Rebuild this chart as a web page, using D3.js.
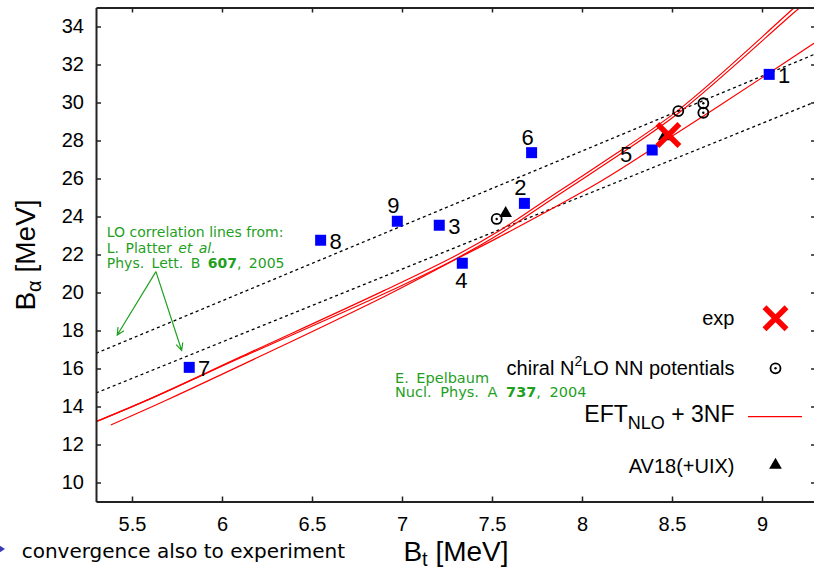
<!DOCTYPE html>
<html>
<head>
<meta charset="utf-8">
<script src="https://cdn.jsdelivr.net/npm/d3@7"></script>
<style>
body { margin: 0; background: #fff; }
svg { display: block; font-family: "Liberation Sans", Arial, sans-serif; }
</style>
</head>
<body>
<svg id="tjon"></svg>
<script>
// ---- data (B_t, B_alpha in MeV) ----
const modelLabels = ["1", "2", "3", "4", "5", "6", "7", "8", "9"];
const modelBt = [9.04, 7.68, 7.207, 7.335, 8.39, 7.72, 5.818, 6.548, 6.974];
const modelBa = [31.48, 24.69, 23.54, 21.54, 27.5, 27.36, 16.06, 22.75, 23.75];
const modelSide = ["right", "above", "right", "below", "left", "above", "right", "right", "above"];

const chiralBt = [7.526, 8.535, 8.674, 8.674];
const chiralBa = [23.87, 29.55, 29.96, 29.46];

const av18Bt = [7.576, 8.457];
const av18Ba = [24.17, 28.2];

const expBt = [8.48];
const expBa = [28.29];

// LO correlation lines (Platter et al.)
const loBt = [5.3, 9.3];
const loUpperBa = [16.8, 32.57];
const loLowerBa = [14.71, 30.05];

// EFT NLO + 3NF bands (Epelbaum)
const eftA1Bt = [5.3, 5.6, 6.1, 6.9, 7.3, 7.55, 7.82, 8.1, 8.535, 9.18, 9.25];
const eftA1Ba = [13.2, 14.4, 16.6, 20.1, 21.95, 23.3, 25.0, 26.75, 29.6, 35.0, 35.6];
const eftA2Bt = [5.3, 5.6, 6.1, 6.9, 7.3, 7.55, 7.82, 8.1, 8.535, 9.18, 9.25];
const eftA2Ba = [13.2, 14.4, 16.55, 19.93, 21.78, 23.13, 24.83, 26.58, 29.43, 34.75, 35.3];
const eftBBt = [5.382, 5.693, 6.9, 7.3, 7.544, 8.1, 8.452, 8.75, 9.35];
const eftBBa = [13.03, 14.34, 19.78, 21.75, 22.94, 25.83, 27.94, 29.75, 33.5];

const xTicks = [5.5, 6, 6.5, 7, 7.5, 8, 8.5, 9];
const yTicks = [10, 12, 14, 16, 18, 20, 22, 24, 26, 28, 30, 32, 34];

// annotation arrows: apex -> two tips
const arrowBt = [5.633, 5.418, 5.776];
const arrowBa = [21.1, 17.76, 16.95];

const W = 814, H = 567;
const svg = d3.select("#tjon").attr("width", W).attr("height", H);
svg.append("rect").attr("width", W).attr("height", H).attr("fill", "#fff");

const x = d3.scaleLinear().domain([5.3, 9.3]).range([96, 816]);
const y = d3.scaleLinear().domain([9, 35]).range([501.5, 7.5]);

svg.append("clipPath").attr("id", "plotclip")
    .append("rect")
    .attr("x", x(5.3)).attr("y", y(35))
    .attr("width", x(9.3) - x(5.3)).attr("height", y(9) - y(35));

const plot = svg.append("g").attr("clip-path", "url(#plotclip)");

// dashed LO lines
[loUpperBa, loLowerBa].forEach(ba => {
    plot.append("path")
        .datum(loBt.map((d, i) => [d, ba[i]]))
        .attr("d", d3.line().x(d => x(d[0])).y(d => y(d[1])))
        .attr("fill", "none")
        .attr("stroke", "#000")
        .attr("stroke-width", 1.3)
        .attr("stroke-dasharray", "3,3");
});

// red EFT curves
const curve = d3.line().x(d => x(d[0])).y(d => y(d[1])).curve(d3.curveCatmullRom);
[[eftA1Bt, eftA1Ba], [eftA2Bt, eftA2Ba], [eftBBt, eftBBa]].forEach(([bt, ba]) => {
    plot.append("path")
        .datum(bt.map((d, i) => [d, ba[i]]))
        .attr("d", curve)
        .attr("fill", "none")
        .attr("stroke", "#ff0000")
        .attr("stroke-width", 1.2);
});

// axes
function styleAxis(g) {
    g.select(".domain").attr("stroke", "#222").attr("stroke-width", 2);
    g.selectAll(".tick line").attr("stroke", "#222").attr("stroke-width", 1.5);
    g.selectAll(".tick text").attr("fill", "#000").style("font-size", "20px")
        .style("font-family", "'Liberation Sans', Arial, sans-serif");
}
svg.append("g")
    .attr("transform", `translate(0,${y(9)})`)
    .call(d3.axisBottom(x).tickValues(xTicks).tickSizeInner(-5).tickSizeOuter(0)
        .tickPadding(15).tickFormat(d => String(d)))
    .call(styleAxis);
svg.append("g")
    .attr("transform", `translate(${x(5.3)},0)`)
    .call(d3.axisLeft(y).tickValues(yTicks).tickSizeInner(-5).tickSizeOuter(0)
        .tickPadding(12).tickFormat(d => String(d)))
    .call(styleAxis);
svg.append("g")
    .attr("transform", `translate(0,${y(35)})`)
    .call(d3.axisTop(x).tickValues(xTicks).tickSizeInner(-5).tickSizeOuter(0).tickFormat(""))
    .call(styleAxis);
svg.append("g")
    .attr("transform", `translate(${x(9.3)},0)`)
    .call(d3.axisRight(y).tickValues(yTicks).tickSizeInner(-5).tickSizeOuter(0).tickFormat(""))
    .call(styleAxis);

// blue model squares
const sq = d3.symbol().type(d3.symbolSquare).size(121);
svg.selectAll(".model")
    .data(modelLabels)
    .enter().append("path")
    .attr("class", "model")
    .attr("d", sq)
    .attr("transform", (d, i) => `translate(${x(modelBt[i])},${y(modelBa[i])})`)
    .attr("fill", "#0000ff");

const sideOffset = {
    right: [15, 8.5],
    above: [-4, -8],
    left: [-26, 11.7],
    below: [-1, 25]
};
svg.selectAll(".mlabel")
    .data(modelLabels)
    .enter().append("text")
    .attr("class", "mlabel")
    .attr("x", (d, i) => x(modelBt[i]) + sideOffset[modelSide[i]][0])
    .attr("y", (d, i) => y(modelBa[i]) + sideOffset[modelSide[i]][1])
    .attr("text-anchor", "middle")
    .style("font-size", "22px")
    .text(d => d);

// chiral N2LO open circles
function dotCircle(g, cx, cy) {
    g.append("circle").attr("cx", cx).attr("cy", cy).attr("r", 5)
        .attr("fill", "none").attr("stroke", "#000").attr("stroke-width", 1.8);
    g.append("circle").attr("cx", cx).attr("cy", cy).attr("r", 1.2).attr("fill", "#000");
}
chiralBt.forEach((d, i) => dotCircle(svg, x(d), y(chiralBa[i])));

// AV18 triangles
const tri = d3.symbol().type(d3.symbolTriangle).size(70);
svg.selectAll(".av18")
    .data(av18Bt)
    .enter().append("path")
    .attr("d", tri)
    .attr("transform", (d, i) => `translate(${x(d)},${y(av18Ba[i])})`)
    .attr("fill", "#000");

// experiment cross
function cross(g, cx, cy, h) {
    g.append("path")
        .attr("d", `M${cx - h},${cy - h}L${cx + h},${cy + h}M${cx - h},${cy + h}L${cx + h},${cy - h}`)
        .attr("stroke", "#ff0000").attr("stroke-width", 5.5).attr("fill", "none");
}
expBt.forEach((d, i) => cross(svg, x(d), y(expBa[i]), 11));

// ---- legend ----
const legX = 734.5, symX = 775.5;
const leg = svg.append("g").style("font-size", "20px");
leg.append("text").attr("x", legX).attr("y", 325).attr("text-anchor", "end").text("exp");
cross(leg, symX, 318.3, 11);

const l2 = leg.append("text").attr("x", legX).attr("y", 375).attr("text-anchor", "end");
l2.append("tspan").text("chiral N");
l2.append("tspan").attr("dy", -9).style("font-size", "14px").text("2");
l2.append("tspan").attr("dy", 9).text("LO NN potentials");
dotCircle(leg, symX, 368.3);

const l3 = leg.append("text").attr("x", legX).attr("y", 421.7).attr("text-anchor", "end")
    .style("font-size", "23px");
l3.append("tspan").text("EFT");
l3.append("tspan").attr("dy", 7).style("font-size", "18px").text("NLO");
l3.append("tspan").attr("dy", -7).text(" + 3NF");
leg.append("line").attr("x1", 748).attr("x2", 802).attr("y1", 416.7).attr("y2", 416.7)
    .attr("stroke", "#ff0000").attr("stroke-width", 1.2);

leg.append("text").attr("x", legX).attr("y", 473).attr("text-anchor", "end").text("AV18(+UIX)");
leg.append("path").attr("d", tri).attr("transform", `translate(${symX},465)`).attr("fill", "#000");

// ---- green annotations ----
const green = "#1fa01f";
const ann = svg.append("g")
    .attr("fill", green)
    .style("font-family", "'DejaVu Sans', sans-serif")
    .style("font-size", "14px");
const a1 = ann.append("text").attr("x", x(5.36)).attr("y", y(22.9));
a1.append("tspan").attr("x", x(5.36)).text("LO correlation lines from:");
const a1b = a1.append("tspan").attr("x", x(5.36)).attr("dy", 15.2).style("word-spacing", "2px");
a1b.append("tspan").text("L. Platter ");
a1b.append("tspan").style("font-style", "italic").text("et al.");
const a1c = a1.append("tspan").attr("x", x(5.36)).attr("dy", 15).style("word-spacing", "3px");
a1c.append("tspan").text("Phys. Lett. B ");
a1c.append("tspan").style("font-weight", "bold").text("607");
a1c.append("tspan").text(", 2005");

const a2 = ann.append("text").attr("x", x(6.961)).attr("y", y(15.22)).style("font-size", "14.5px");
a2.append("tspan").attr("x", x(6.961)).style("word-spacing", "3px").text("E. Epelbaum");
const a2b = a2.append("tspan").attr("x", x(6.961)).attr("dy", 14).style("word-spacing", "4px");
a2b.append("tspan").text("Nucl. Phys. A ");
a2b.append("tspan").style("font-weight", "bold").text("737");
a2b.append("tspan").text(", 2004");

// arrows
const ax0 = x(arrowBt[0]), ay0 = y(arrowBa[0]);
[1, 2].forEach(i => {
    const tx = x(arrowBt[i]), ty = y(arrowBa[i]);
    const ang = Math.atan2(ty - ay0, tx - ax0);
    const hl = 8, spread = 0.45;
    ann.append("path")
        .attr("d", `M${ax0},${ay0}L${tx},${ty}` +
            `M${tx - hl * Math.cos(ang - spread)},${ty - hl * Math.sin(ang - spread)}L${tx},${ty}` +
            `L${tx - hl * Math.cos(ang + spread)},${ty - hl * Math.sin(ang + spread)}`)
        .attr("fill", "none").attr("stroke", green).attr("stroke-width", 1.2);
});

// ---- axis titles ----
const yt = svg.append("text")
    .attr("transform", "translate(35,255) rotate(-90)")
    .attr("text-anchor", "middle")
    .style("font-size", "28px");
yt.append("tspan").text("B");
yt.append("tspan").attr("dy", 6).style("font-size", "20px").text("α");
yt.append("tspan").attr("dy", -6).text(" [MeV]");

const xt = svg.append("text")
    .attr("x", (x(5.3) + x(9.3)) / 2)
    .attr("y", 561)
    .attr("text-anchor", "middle")
    .style("font-size", "28px");
xt.append("tspan").text("B");
xt.append("tspan").attr("dy", 5).style("font-size", "20px").text("t");
xt.append("tspan").attr("dy", -5).text(" [MeV]");

// ---- slide footer bullet ----
svg.append("path").attr("d", "M-4,543L5,549L-4,555Z").attr("fill", "#3b3bb8");
svg.append("text")
    .attr("x", 21.7).attr("y", 558)
    .style("font-family", "'DejaVu Sans', sans-serif")
    .style("font-size", "20px")
    .text("convergence also to experiment");
</script>
</body>
</html>
